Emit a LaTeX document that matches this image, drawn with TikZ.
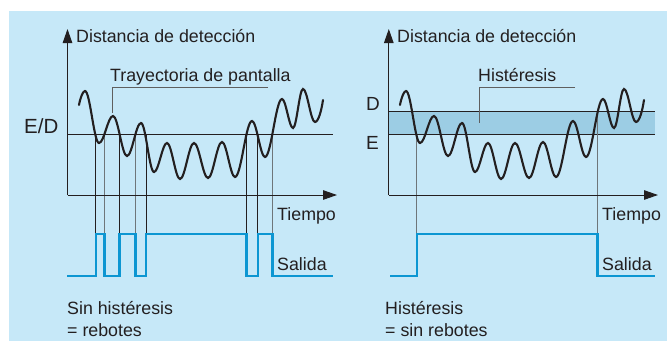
\documentclass[tikz,border=0pt]{standalone}
\usepackage{fontspec}
\setmainfont{Liberation Sans}
\usetikzlibrary{arrows.meta}
\definecolor{bgblue}{RGB}{198,232,248}
\definecolor{bandblue}{RGB}{156,205,228}
\definecolor{outblue}{RGB}{12,150,210}
\definecolor{leadgray}{RGB}{95,95,95}
\definecolor{edgegrey}{RGB}{110,118,122}
\definecolor{ink}{RGB}{35,31,32}
\tikzset{
  lbl/.style={font=\fontsize{17.8}{20}\selectfont, text=ink, inner sep=0pt, anchor=base west},
  biglbl/.style={lbl, font=\fontsize{19}{21}\selectfont},
  axisline/.style={draw=ink, line width=1pt, -{Triangle[length=14pt,width=9.5pt]}},
  waveline/.style={draw=ink, line width=2.1pt, line cap=round},
  thrline/.style={draw=ink, line width=0.9pt},
  leadline/.style={draw=leadgray, line width=1pt},
  darkedge/.style={draw=ink, line width=0.9pt},
  greyedge/.style={draw=edgegrey, line width=1pt},
  outline/.style={draw=outblue, line width=2.4pt},
}
\def\wavepath{(79,105) .. controls (80.5,97) and (83,91) .. (85,91)
 .. controls +(5.1,0) and +(-5.1,0) .. (99,143)
 .. controls +(5.1,0) and +(-5.1,0) .. (113,116)
 .. controls +(5.1,0) and +(-5.1,0) .. (127,156)
 .. controls +(5.1,0) and +(-5.1,0) .. (141,123)
 .. controls +(4.7,0) and +(-4.7,0) .. (154,172)
 .. controls +(4.7,0) and +(-4.7,0) .. (167,143)
 .. controls +(4.7,0) and +(-4.7,0) .. (180,179)
 .. controls +(5.1,0) and +(-5.1,0) .. (194,143)
 .. controls +(5.1,0) and +(-5.1,0) .. (208,178)
 .. controls +(5.1,0) and +(-5.1,0) .. (222,142)
 .. controls +(4.7,0) and +(-4.7,0) .. (235,177)
 .. controls +(6.2,0) and +(-6.2,0) .. (252,121)
 .. controls +(4.7,0) and +(-4.7,0) .. (265,157)
 .. controls +(6.2,0) and +(-6.2,0) .. (282,99)
 .. controls +(4,0) and +(-4,0) .. (293,128)
 .. controls +(3.6,0) and +(-3.6,0) .. (303,89)
 .. controls +(4.4,0) and +(-4.4,0) .. (315,122)
 .. controls (318.5,122) and (321.5,110) .. (323,100)}
\begin{document}
\begin{tikzpicture}[x=1pt,y=-1pt]
\useasboundingbox (0,0) rectangle (671,341);
\fill[white] (0,0) rectangle (671,341);
\fill[bgblue] (9,11) rectangle (667,341);

% ---------- left panel ----------
\coordinate (oL) at (67.5,195);
\coordinate (yL) at (67.5,29);
\coordinate (xL) at (337,195);
\draw[thrline] (67.5,134) -- (333,134);
\foreach \x in {95.7,119.6,146,246.4,257.8} \draw[darkedge] (\x,134) -- (\x,234);
\foreach \x in {104.3,135.3,272.3} \draw[greyedge] (\x,134) -- (\x,234);
\draw[axisline] (oL) -- (yL);
\draw[axisline] (oL) -- (xL);
\draw[waveline] \wavepath;
\draw[outline] (67,276) -| (95.7,234) -| (104.3,276) -| (119.6,234) -| (135.3,276)
  -| (146,234) -| (246.4,276) -| (257.8,234) -| (272.3,276) -- (333,276);
\draw[leadline] (268,87) -- (112,87) -- (112,113);

\node[lbl] (ylabL) at (76,42) {Distancia de detección};
\node[lbl] (traj) at (110,81) {Trayectoria de pantalla};
\node[lbl, font=\fontsize{20.5}{22}\selectfont] (ed) at (24,133) {E/D};
\node[lbl] (tL) at (277,220) {Tiempo};
\node[lbl] (sL) at (277,270) {Salida};
\node[lbl] (cLa) at (67,314) {Sin histéresis};
\node[lbl] (cLb) at (67,336) {= rebotes};

% ---------- right panel ----------
\coordinate (oR) at (388.8,195);
\coordinate (yR) at (388.8,29);
\coordinate (xR) at (658,195);
\fill[bandblue] (388.8,111) rectangle (655,134);
\draw[thrline] (388.8,111) -- (655,111);
\draw[thrline] (388.8,134) -- (655,134);
\draw[greyedge] (416.8,134) -- (416.8,234);
\draw[greyedge] (597.5,111) -- (597.5,234);
\draw[axisline] (oR) -- (yR);
\draw[axisline] (oR) -- (xR);
\begin{scope}[xshift=321pt]
\draw[waveline] \wavepath;
\end{scope}
\draw[outline] (390,276) -| (416.8,234) -| (597.5,276) -- (655,276);
\draw[leadline] (575,87) -- (479,87) -- (479,123);

\node[lbl] (ylabR) at (397,42) {Distancia de detección};
\node[lbl] (hyst) at (478,81) {Histéresis};
\node[biglbl] (dlab) at (366,110) {D};
\node[biglbl] (elab) at (366,149) {E};
\node[lbl] (tR) at (602,220) {Tiempo};
\node[lbl] (sR) at (602,270) {Salida};
\node[lbl] (cRa) at (385,314) {Histéresis};
\node[lbl] (cRb) at (385,336) {= sin rebotes};
\end{tikzpicture}
\end{document}
